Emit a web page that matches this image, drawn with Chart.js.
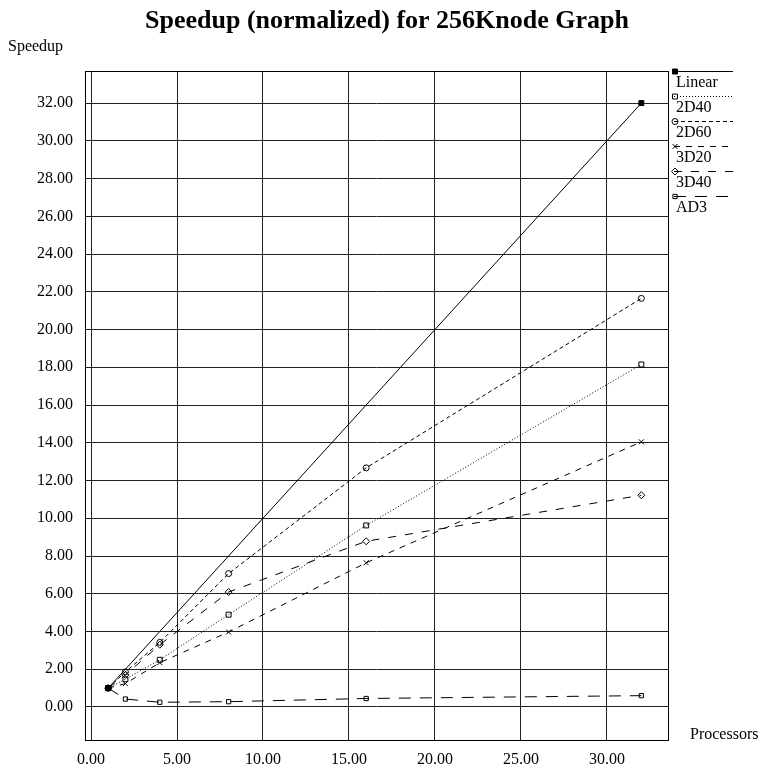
<!DOCTYPE html>
<html>
<head>
<meta charset="utf-8">
<script src="https://cdn.jsdelivr.net/npm/chart.js@4/dist/chart.umd.min.js"></script>
<style>
  html, body { margin: 0; padding: 0; background: #fff; }
  #wrap { width: 763px; height: 768px; }
</style>
</head>
<body>
<div id="wrap"><canvas id="c" width="763" height="768"></canvas></div>
<script>
// Processor counts and measured speedups per configuration
const processors = [1, 2, 4, 8, 16, 32];
const linearProcessors = [1, 32];
const linear = [1, 32];
const speed2D40 = [1, 1.47, 2.5, 4.89, 9.62, 18.15];
const speed2D60 = [1, 1.86, 3.42, 7.07, 12.67, 21.65];
const speed3D20 = [1, 1.24, 2.35, 3.97, 7.64, 14.05];
const speed3D40 = [1, 1.7, 3.3, 6.09, 8.78, 11.22];
const speedAD3 = [1, 0.42, 0.25, 0.28, 0.45, 0.6];

const seriesNames = ['Linear', '2D40', '2D60', '3D20', '3D40', 'AD3'];
const xTicks = [0, 5, 10, 15, 20, 25, 30];
const yTicks = [0, 2, 4, 6, 8, 10, 12, 14, 16, 18, 20, 22, 24, 26, 28, 30, 32];

const titleText = 'Speedup (normalized) for 256Knode Graph';
const yTitle = 'Speedup';
const xTitle = 'Processors';

const FONT = "'Liberation Serif', 'Times New Roman', serif";
const OPEN = 'rgba(0,0,0,0)';

function pts(xs, values) {
  return xs.map((p, i) => ({ x: p, y: values[i] }));
}

const styles = [
  { dash: [], point: 'rect', fill: '#000', r: 3.5 },
  { dash: [1, 2], point: 'rect', fill: OPEN, r: 3.5 },
  { dash: [4, 3], point: 'circle', fill: OPEN, r: 3 },
  { dash: [6, 6], point: 'crossRot', fill: OPEN, r: 3.5 },
  { dash: [8, 9], point: 'rectRot', fill: OPEN, r: 3.5 },
  { dash: [12, 9], point: 'rect', fill: OPEN, r: 3 }
];
const seriesX = [linearProcessors, processors, processors, processors, processors, processors];
const seriesValues = [linear, speed2D40, speed2D60, speed3D20, speed3D40, speedAD3];

const datasets = seriesValues.map((vals, i) => ({
  label: seriesNames[i],
  data: pts(seriesX[i], vals),
  showLine: true,
  borderColor: '#000',
  borderWidth: 1,
  borderDash: styles[i].dash,
  pointStyle: styles[i].point,
  pointRadius: styles[i].r,
  pointHoverRadius: styles[i].r,
  pointBackgroundColor: styles[i].fill,
  pointBorderColor: '#000',
  pointBorderWidth: 1,
  fill: false,
  tension: 0
}));

// Frame, titles and the stacked legend at the right of the plot
const decorations = {
  id: 'decorations',
  afterDraw(chart) {
    const ctx = chart.ctx;
    const a = chart.chartArea;
    ctx.save();
    ctx.strokeStyle = '#000';
    ctx.lineWidth = 1;
    ctx.setLineDash([]);
    ctx.strokeRect(Math.round(a.left) + 0.5, Math.round(a.top) + 0.5,
                   Math.round(a.right - a.left), Math.round(a.bottom - a.top));

    ctx.fillStyle = '#000';
    ctx.textBaseline = 'middle';
    ctx.textAlign = 'center';
    ctx.font = 'bold 26px ' + FONT;
    ctx.fillText(titleText, 387, 21);

    ctx.textAlign = 'left';
    ctx.font = '16px ' + FONT;
    ctx.fillText(yTitle, 8, 47);
    ctx.fillText(xTitle, 690, 735);

    // legend
    const lx0 = a.right + 6, lx1 = a.right + 65;
    chart.data.datasets.forEach((ds, i) => {
      const y = Math.round(a.top + i * 24.9) + 0.5;
      ctx.strokeStyle = '#000';
      ctx.setLineDash(ds.borderDash || []);
      ctx.beginPath();
      ctx.moveTo(lx0, y);
      ctx.lineTo(lx1, y);
      ctx.stroke();
      ctx.setLineDash([]);
      ctx.fillStyle = ds.pointBackgroundColor;
      ctx.strokeStyle = '#000';
      Chart.helpers.drawPoint(ctx, {
        pointStyle: ds.pointStyle,
        radius: ds.pointRadius,
        borderWidth: 1,
        rotation: 0
      }, lx0 + 1, y);
      ctx.fillStyle = '#000';
      ctx.textBaseline = 'alphabetic';
      ctx.fillText(ds.label, lx0 + 2, y + 15);
    });
    ctx.restore();
  }
};

new Chart(document.getElementById('c'), {
  type: 'scatter',
  data: { datasets },
  options: {
    responsive: false,
    animation: false,
    devicePixelRatio: 1,
    layout: { padding: { left: 0, top: 71, right: 95, bottom: 0 } },
    plugins: {
      legend: { display: false },
      title: { display: false },
      tooltip: { enabled: false }
    },
    scales: {
      x: {
        type: 'linear',
        min: -0.35,
        max: 33.55,
        afterBuildTicks(scale) { scale.ticks = xTicks.map(v => ({ value: v })); },
        afterFit(scale) { scale.height = 28; },
        grid: { color: '#222', lineWidth: 1, drawTicks: false },
        border: { display: false },
        ticks: {
          color: '#000',
          font: { family: FONT, size: 16 },
          padding: 10,
          maxRotation: 0,
          autoSkip: false,
          callback: v => Number(v).toFixed(2)
        }
      },
      y: {
        type: 'linear',
        min: -1.75,
        max: 33.7,
        afterBuildTicks(scale) { scale.ticks = yTicks.map(v => ({ value: v })); },
        afterFit(scale) { scale.width = 85; },
        grid: { color: '#222', lineWidth: 1, drawTicks: false },
        border: { display: false },
        ticks: {
          color: '#000',
          font: { family: FONT, size: 16 },
          padding: 12,
          autoSkip: false,
          callback: v => Number(v).toFixed(2)
        }
      }
    }
  },
  plugins: [decorations]
});
</script>
</body>
</html>
